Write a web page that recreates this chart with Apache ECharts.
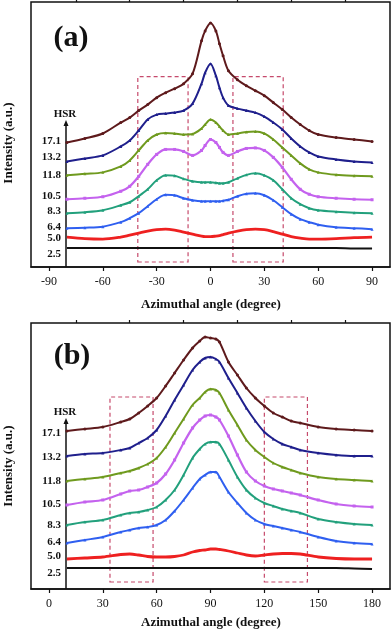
<!DOCTYPE html>
<html>
<head>
<meta charset="utf-8">
<script src="https://cdn.jsdelivr.net/npm/echarts@6/dist/echarts.min.js"></script>
<style>
    html, body { margin: 0; padding: 0; background: #fff; }
    #chart { width: 392px; height: 632px; }
</style>
</head>
<body>
<div id="chart"></div>
<script>
    // panel (a): azimuthal angle -90..90
    const angleA = [-80,-70,-60,-50,-45,-40,-35,-30,-25,-20,-15,-10,-5,-3,0,3,5,7,10,15,20,25,30,35,40,45,50,55,60,70,80,90];
    const a_2_5  = [19,19,19,19,19,19,19,19,19,19,19,19,19,19,19,19,19,19,19,19,19,19,19,19,19,19,19,19,19,19,18.5,18.5];
    const a_5_0  = [30,28.5,28,30,32,34,36,37.5,38,37,35,33,31,30.5,30.5,31,31.5,32.5,34,36,37.5,38,37.5,35.5,33,30.5,29,28,28,28.5,29.5,30];
    const a_6_4  = [39,39.5,40.5,45,49,54,61,68,72.5,72,69,67,66,66,66,66,66,66.5,67.5,71,73.5,74,72,67,60,53,48,45,42.5,40,39,38];
    const a_8_3  = [54,55,57,62,65,71,78,87,92,91.5,88.5,86,85,85,85,84.5,84,84,85,89,92.5,94,92,87,78,69,63,59,57,55.5,54.5,54];
    const a_10_5 = [68,69,70.5,76,81,91,103,113,118,118,116,112,117,122,128,125,120,115,112,116,119,119.5,117,110,100,88,78,73,70.5,69,68,67.5];
    const a_11_8 = [92,93.5,95,101,107,117,127,133,134.5,134,133,133.5,139,143,148,145,141,137,133,134,135.5,136,134,128,120,112,104,98,95,92.5,91.5,91];
    const a_13_2 = [106,109,112,121,127,137,148,153,154,155,157,164,184,195,204,192,180,170,162,159,157,155,151,145,138,129,121,115,111,108,106,105];
    const a_17_1 = [125,129,134,145,150,157,163,170,175,179,184,194,227,237,245,237,224,212,197,188,182,177,172,165,158,150,143,137,133,130,128,126];

    // panel (b): azimuthal angle 0..180
    const angleB = [10,20,30,40,45,50,55,60,65,70,75,80,84,87,90,93,95,100,105,110,115,120,125,130,135,140,150,160,170,180];
    const b_2_5  = [21,21,21,21,21,21,21,21,21,21,21,21,21,21,21,21,21,21,21,21,21,21,21,21,21,21,21,21,20.5,20];
    const b_5_0  = [30,31,32,34.5,35,34,32.5,32,32,32.5,34,37,38.5,39,40,40,39.5,38,36,34,33,34,35,35.5,35.5,35,32,30.5,30,30];
    const b_6_4  = [46,49,52,57,59,61,62,64,69,78,89,101,110,114,117,117,112,97,86,76,69,65,63,61,59,57,52,48,46,45];
    const b_8_3  = [64,67,69,74,76,77,79,82,89,99,114,131,140,145,147,147,145,129,112,99,91,86,83,80,78,76,70,67,65,64];
    const b_10_5 = [84,87,89,95,98,99,102,106,115,129,146,161,169,173,174,172,169,153,134,117,108,103,100,98,96,94,89,85,83,82];
    const b_11_8 = [108,110,112,116,118,121,125,131,142,156,170,184,191,197,200,199,196,179,164,149,139,132,126,122,119,116,112,110,109,108];
    const b_13_2 = [133,135,136,139,141,146,151,159,173,189,204,219,227,231,232,230,227,211,196,181,168,157,150,145,142,139,136,134,133,133];
    const b_17_1 = [158,160,162,167,170,176,183,191,203,216,229,241,248,252,251,250,247,227,214,201,191,183,176,172,168,166,162,160,159,158];

    const hsrLabels = ['17.1','13.2','11.8','10.5','8.3','6.4','5.0','2.5'];
    const ticksA = [-90,-60,-30,0,30,60,90];
    const minorA = [-75,-45,-15,15,45,75];
    const ticksB = [0,30,60,90,120,150,180];
    const minorB = [15,45,75,105,135,165];
    const boxesA = [[-40.5,-12.5],[12.5,40.5]];
    const boxesB = [[34,58],[120,144]];

    const FONT = '"Liberation Serif", "DejaVu Serif", serif';
    const colors = ['#5e1a1c','#1f1f8c','#6f9a1e','#c462ee','#22a07c','#2f5ff0','#ee2020','#111111'];
    const symbols = ['circle','triangle','triangle','rect','triangle','triangle','none','none'];
    const widths = [2, 2, 2, 2.2, 2, 2, 2.8, 2];

    const seriesA = [a_17_1, a_13_2, a_11_8, a_10_5, a_8_3, a_6_4, a_5_0, a_2_5];
    const seriesB = [b_17_1, b_13_2, b_11_8, b_10_5, b_8_3, b_6_4, b_5_0, b_2_5];

    // label / arrow layout per panel
    const labelYA = [141,157.5,175.5,196,211,227,238.5,254.5];
    const labelYB = [433,457,481,504,525,542,556,573];

    const chart = echarts.init(document.getElementById('chart'));

    const makeX = (grid, min, max, major, minor) => ([
        {
            type: 'value', gridIndex: grid, min: min, max: max,
            axisLine: { show: true, lineStyle: { color: '#111', width: 1.5 } },
            axisTick: { show: true, inside: false, length: 4, customValues: major, lineStyle: { color: '#111', width: 1.2 } },
            axisLabel: { show: true, customValues: major, margin: 9, color: '#111', fontSize: 12, fontFamily: FONT },
            splitLine: { show: false }
        },
        {
            type: 'value', gridIndex: grid, min: min, max: max,
            axisLine: { show: false },
            axisTick: { show: true, inside: false, length: 3, customValues: minor, lineStyle: { color: '#111', width: 1.2 } },
            axisLabel: { show: false },
            splitLine: { show: false }
        }
    ]);

    const makeY = (grid) => ({
        type: 'value', gridIndex: grid, min: 0, max: 266,
        axisLine: { show: false }, axisTick: { show: false },
        axisLabel: { show: false }, splitLine: { show: false }
    });

    const boxArea = (boxes, y0, y1) => ({
        silent: true,
        itemStyle: { color: 'rgba(0,0,0,0)', borderColor: '#c64a6c', borderWidth: 1.2, borderType: [4, 3] },
        data: boxes.map(b => [{ xAxis: b[0], yAxis: y0 }, { xAxis: b[1], yAxis: y1 }])
    });

    const buildSeries = (list, angles, xIdx, yIdx, boxes, by0, by1) => list.map((vals, i) => ({
        type: 'line',
        xAxisIndex: xIdx,
        yAxisIndex: yIdx,
        data: angles.map((x, k) => [x, vals[k]]),
        smooth: 0.3,
        symbol: symbols[i],
        symbolSize: 3,
        showSymbol: symbols[i] !== 'none',
        color: colors[i],
        lineStyle: { color: colors[i], width: widths[i] },
        itemStyle: { color: colors[i] },
        silent: true,
        markArea: i === 7 ? boxArea(boxes, by0, by1) : undefined
    }));

    const hsrText = (ys, topY) => {
        const els = hsrLabels.map((t, i) => ({
            type: 'text', x: 61, y: ys[i],
            style: { text: t, align: 'right', verticalAlign: 'middle', font: 'bold 11px ' + FONT, fill: '#111' }
        }));
        els.push({
            type: 'text', x: 65, y: topY - 6,
            style: { text: 'HSR', align: 'center', verticalAlign: 'middle', font: 'bold 11px ' + FONT, fill: '#111' }
        });
        return els;
    };

    const arrow = (x, top, bottom) => ([
        { type: 'line', shape: { x1: x, y1: bottom, x2: x, y2: top + 4 }, style: { stroke: '#111', lineWidth: 1.5 } },
        { type: 'polygon', shape: { points: [[x, top], [x - 2.5, top + 6], [x + 2.5, top + 6]] }, style: { fill: '#111' } }
    ]);

    const options = {
        animation: false,
        backgroundColor: '#fff',
        grid: [
            { left: 31, top: 2, width: 359, height: 265, show: true, borderColor: '#111', borderWidth: 1.5, backgroundColor: 'transparent' },
            { left: 31, top: 323, width: 359, height: 266, show: true, borderColor: '#111', borderWidth: 1.5, backgroundColor: 'transparent' }
        ],
        xAxis: [].concat(makeX(0, -100, 100, ticksA, minorA), makeX(1, -10, 190, ticksB, minorB)),
        yAxis: [makeY(0), makeY(1)],
        series: [].concat(
            buildSeries(seriesA, angleA, 0, 0, boxesA, 5, 191),
            buildSeries(seriesB, angleB, 2, 1, boxesB, 7, 192)
        ),
        graphic: [].concat(
            arrow(66, 120, 267),
            arrow(66, 418, 589),
            hsrText(labelYA, 120),
            hsrText(labelYB, 418),
            [
                { type: 'text', x: 71, y: 38, style: { text: '(a)', align: 'center', verticalAlign: 'middle', font: 'bold 30px ' + FONT, fill: '#111' } },
                { type: 'text', x: 72, y: 356, style: { text: '(b)', align: 'center', verticalAlign: 'middle', font: 'bold 30px ' + FONT, fill: '#111' } },
                { type: 'text', x: 9, y: 143, rotation: Math.PI / 2, style: { text: 'Intensity (a.u.)', align: 'center', verticalAlign: 'middle', font: 'bold 13px ' + FONT, fill: '#111' } },
                { type: 'text', x: 9, y: 466, rotation: Math.PI / 2, style: { text: 'Intensity (a.u.)', align: 'center', verticalAlign: 'middle', font: 'bold 13px ' + FONT, fill: '#111' } },
                { type: 'text', x: 211, y: 305, style: { text: 'Azimuthal angle (degree)', align: 'center', verticalAlign: 'middle', font: 'bold 13px ' + FONT, fill: '#111' } },
                { type: 'text', x: 211, y: 623, style: { text: 'Azimuthal angle (degree)', align: 'center', verticalAlign: 'middle', font: 'bold 13px ' + FONT, fill: '#111' } }
            ]
        )
    };

    chart.setOption(options);
</script>
</body>
</html>
